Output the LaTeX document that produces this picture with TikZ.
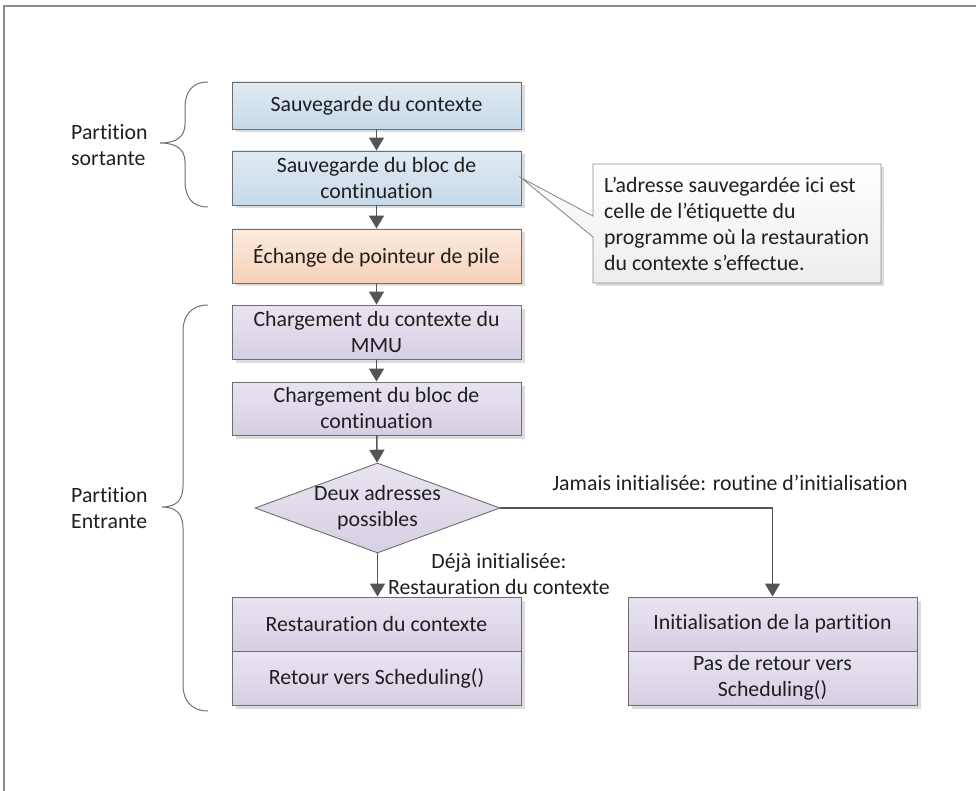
\documentclass[tikz,border=0pt]{standalone}
\usepackage{fontspec}
\setmainfont{Carlito}[Ligatures=NoCommon]
\usetikzlibrary{arrows.meta,shapes.geometric,shadows}

\definecolor{txt}{HTML}{1F1F1F}
\definecolor{boxline}{HTML}{6E6E6E}
\definecolor{arrowc}{HTML}{555555}
\definecolor{frameline}{HTML}{8C8C8C}
\definecolor{braceline}{HTML}{6F6F6F}
\definecolor{blueA}{HTML}{E0EAF3}
\definecolor{blueB}{HTML}{C7DAE9}
\definecolor{orangeA}{HTML}{FCEBDF}
\definecolor{orangeB}{HTML}{F6D1B8}
\definecolor{purpleA}{HTML}{E9E4F0}
\definecolor{purpleB}{HTML}{D6CFE3}
\definecolor{noteB}{HTML}{EBEDEF}
\definecolor{shadowc}{HTML}{DCDCDC}

\begin{document}
\begin{tikzpicture}[x=1pt,y=-1pt,
  font=\fontsize{21.8}{26}\selectfont, text=txt,
  box/.style={draw=boxline, line width=0.9pt, minimum width=289pt,
    align=center, inner sep=2pt,
    drop shadow={shadow xshift=3.5pt, shadow yshift=-3.5pt, fill=shadowc, opacity=1}},
  bluebox/.style={box, top color=blueA, bottom color=blueB},
  orangebox/.style={box, top color=orangeA, bottom color=orangeB},
  purplebox/.style={box, top color=purpleA, bottom color=purpleB},
  decision/.style={diamond, draw=boxline, line width=0.9pt, inner sep=0pt,
    minimum width=245pt, minimum height=90pt,
    top color=purpleA, bottom color=purpleB},
  flow/.style={draw=arrowc, line width=1.5pt, -{Triangle[length=13pt,width=15pt]}},
  bracepath/.style={draw=braceline, line width=1pt},
  sidelabel/.style={align=left, anchor=west, inner sep=0pt},
  edgelabel/.style={align=center, inner sep=0pt},
]
\useasboundingbox (0,0) rectangle (976,791);

% page frame (top and left edges)
\draw[frameline, line width=1.5pt] (4,791) -- (4,6) -- (976,6);

% outgoing partition
\node[bluebox, minimum height=47pt] (b1) at (376.5,105.5) {Sauvegarde du contexte};
\node[bluebox, minimum height=54pt] (b2) at (376.5,178) {Sauvegarde du bloc de\\continuation};
\node[orangebox, minimum height=54pt] (b3) at (376.5,256) {Échange de pointeur de pile};

% incoming partition
\node[purplebox, minimum height=54pt] (b4) at (376.5,332) {Chargement du contexte du\\MMU};
\node[purplebox, minimum height=53pt] (b5) at (376.5,408.5) {Chargement du bloc de\\continuation};
\node[decision] (d) at (377.5,508) {};
\node[edgelabel] (dtext) at (d.center) {Deux adresses\\possibles};

\node[purplebox, minimum height=54pt] (l1) at (376.5,624) {Restauration du contexte};
\node[purplebox, minimum height=54pt] (l2) at (376.5,678) {Retour vers Scheduling()};
\node[purplebox, minimum height=54pt] (r1) at (772.5,624) {Initialisation de la partition};
\node[purplebox, minimum height=54pt] (r2) at (772.5,678) {Pas de retour vers\\Scheduling()};

% callout with pointer to the second box
\path[draw=frameline, line width=0.9pt, top color=white, bottom color=noteB,
  drop shadow={shadow xshift=3pt, shadow yshift=-3pt, fill=shadowc, opacity=1}]
  (b2.east) -- (593,216) -- (593,164) -- (881,164) -- (881,283) -- (593,283) -- (593,237) -- cycle;
\node[align=left, anchor=west, inner sep=0pt] (note) at (604,224)
  {L’adresse sauvegardée ici est\\celle de l’étiquette du\\programme où la restauration\\du contexte s’effectue.};

% flow connectors
\draw[flow] (b1) -- (b2);
\draw[flow] (b2) -- (b3);
\draw[flow] (b3) -- (b4);
\draw[flow] (b4) -- (b5);
\draw[flow] (b5) -- (d);
\draw[flow] (d.south) -- (l1.north -| d.south);
\draw[flow] (d.east) -| (r1.north);
\node[edgelabel] (lbl1) at (499,574) {Déjà initialisée:\\Restauration du contexte};
\node[edgelabel] (lbl2) at (730,483) {Jamais initialisée: routine d’initialisation};

% braces and partition labels
\draw[bracepath] (208,82) .. controls (192,82) and (185,92) .. (185,108)
  -- (185,124) .. controls (185,137) and (176,143) .. (160,143)
  .. controls (176,143) and (185,149) .. (185,162)
  -- (185,181) .. controls (185,197) and (192,207) .. (208,207);
\node[sidelabel] (p1) at (71,145) {Partition\\sortante};

\draw[bracepath] (208,305) .. controls (192,305) and (183,315) .. (183,331)
  -- (183,486) .. controls (183,500) and (176,507) .. (162,507)
  .. controls (176,507) and (183,514) .. (183,528)
  -- (183,685) .. controls (183,701) and (192,711) .. (208,711);
\node[sidelabel] (p2) at (71,508) {Partition\\Entrante};
\end{tikzpicture}
\end{document}
